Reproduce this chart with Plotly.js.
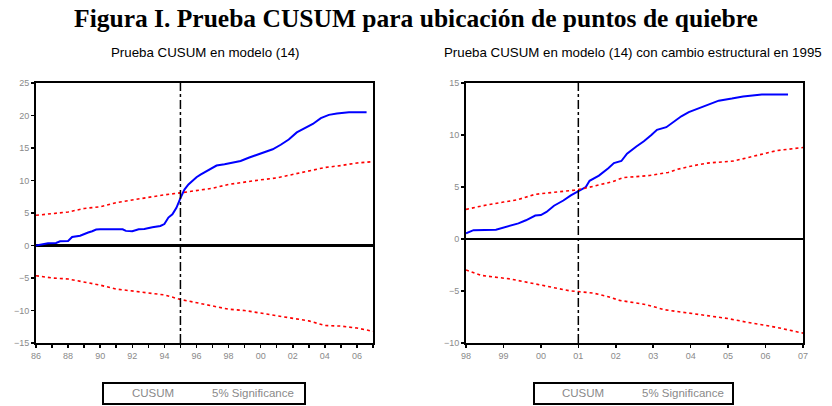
<!DOCTYPE html>
<html>
<head>
<meta charset="utf-8">
<script src="https://cdn.plot.ly/plotly-3.0.1.min.js"></script>
<style>html,body{margin:0;padding:0;background:#fff;}#chart{width:832px;height:406px;}</style>
</head>
<body>
<div id="chart"></div>
<script>
// ---- Left panel: CUSUM en modelo (14), 1986-2007 ----
const leftCusumX = [1986.0,1986.5,1986.75,1987.25,1987.5,1988.0,1988.25,1988.75,1989.0,1989.25,1989.5,1989.75,1990.0,1990.5,1991.0,1991.4,1991.6,1992.0,1992.4,1992.75,1993.25,1993.75,1994.0,1994.25,1994.5,1994.75,1995.0,1995.25,1995.5,1995.75,1996.0,1996.25,1996.75,1997.25,1997.75,1998.25,1998.75,1999.25,1999.75,2000.25,2000.75,2001.25,2001.75,2002.25,2002.75,2003.25,2003.75,2004.25,2004.75,2005.5,2006.6];
const leftCusumY = [0,0.2,0.35,0.4,0.65,0.7,1.3,1.5,1.8,2.0,2.2,2.45,2.5,2.5,2.5,2.5,2.25,2.2,2.5,2.55,2.8,3.0,3.3,4.3,4.8,5.8,7.3,8.6,9.4,10.0,10.5,10.9,11.6,12.3,12.5,12.8,13.0,13.5,13.9,14.3,14.8,15.5,16.3,17.4,18.0,18.7,19.6,20.1,20.3,20.5,20.5];
const leftBandX = [1986,1987,1988,1989,1990,1991,1992,1993,1994,1995,1996,1997,1998,1999,2000,2001,2002,2003,2004,2005,2006,2007];
const leftUpper = [4.65,4.9,5.15,5.7,5.95,6.6,7.0,7.5,7.8,8.1,8.5,8.8,9.4,9.8,10.1,10.4,10.9,11.4,12.0,12.3,12.7,12.9];
const leftLower = [-4.65,-5.0,-5.15,-5.6,-6.1,-6.7,-7.0,-7.3,-7.6,-8.3,-8.8,-9.2,-9.8,-10.0,-10.4,-10.8,-11.1,-11.6,-12.3,-12.4,-12.7,-13.2];
const leftBreak = 1995;
const leftTickVals = [1986,1987,1988,1989,1990,1991,1992,1993,1994,1995,1996,1997,1998,1999,2000,2001,2002,2003,2004,2005,2006,2007];
const leftTickText = ['86','','88','','90','','92','','94','','96','','98','','00','','02','','04','','06',''];
const leftYTicks = [25,20,15,10,5,0,-5,-10,-15];

// ---- Right panel: con cambio estructural, 1998-2007 ----
const rightCusumX = [1998.0,1998.2,1998.8,1999.1,1999.4,1999.6,1999.85,2000.0,2000.15,2000.35,2000.6,2000.8,2001.05,2001.2,2001.3,2001.55,2001.8,2001.95,2002.15,2002.3,2002.55,2002.75,2002.95,2003.1,2003.35,2003.55,2003.75,2003.95,2004.25,2004.5,2004.75,2005.1,2005.4,2005.9,2006.6];
const rightCusumY = [0.55,0.85,0.9,1.2,1.5,1.8,2.25,2.3,2.6,3.2,3.7,4.2,4.7,5.0,5.6,6.1,6.8,7.3,7.5,8.2,8.9,9.4,10.0,10.5,10.75,11.3,11.8,12.2,12.6,12.9,13.3,13.5,13.7,13.9,13.9];
const rightUpperX = [1998,1998.45,1999,1999.35,1999.85,2000.5,2000.9,2001.2,2001.9,2002.2,2002.9,2003.4,2003.65,2004.0,2004.45,2005.15,2005.7,2006.3,2007];
const rightUpper = [2.85,3.2,3.55,3.75,4.3,4.55,4.7,4.9,5.5,5.9,6.1,6.4,6.7,7.0,7.3,7.5,8.0,8.5,8.8];
const rightLowerX = [1998,1998.4,1999.2,1999.8,2000.25,2000.75,2001.4,2001.8,2002.1,2002.8,2003.3,2004.2,2005.0,2005.5,2006.3,2007];
const rightLower = [-2.98,-3.5,-3.85,-4.3,-4.65,-4.97,-5.2,-5.55,-5.9,-6.3,-6.8,-7.25,-7.65,-8.0,-8.5,-9.05];
const rightBreak = 2001;
const rightTickVals = [1998,1999,2000,2001,2002,2003,2004,2005,2006,2007];
const rightTickText = ['98','99','00','01','02','03','04','05','06','07'];
const rightYTicks = [15,10,5,0,-5,-10];

const seriesNames = ['CUSUM','5% Significance'];
const mainTitle = 'Figura I. Prueba CUSUM para ubicación de puntos de quiebre';
const leftTitle = 'Prueba CUSUM en modelo (14)';
const rightTitle = 'Prueba CUSUM en modelo (14) con cambio estructural en 1995';

const BLUE = '#0000ff', RED = '#ff0000';
const cusumLine = {color: BLUE, width: 2};
const bandLine = {color: RED, width: 1.6, dash: '3px,3px'};

const traces = [
  {x: leftCusumX, y: leftCusumY, type: 'scatter', mode: 'lines', name: seriesNames[0], line: cusumLine, xaxis: 'x', yaxis: 'y'},
  {x: leftBandX, y: leftUpper, type: 'scatter', mode: 'lines', name: seriesNames[1], line: bandLine, xaxis: 'x', yaxis: 'y'},
  {x: leftBandX, y: leftLower, type: 'scatter', mode: 'lines', name: seriesNames[1], line: bandLine, xaxis: 'x', yaxis: 'y'},
  {x: rightCusumX, y: rightCusumY, type: 'scatter', mode: 'lines', name: seriesNames[0], line: cusumLine, xaxis: 'x2', yaxis: 'y2'},
  {x: rightUpperX, y: rightUpper, type: 'scatter', mode: 'lines', name: seriesNames[1], line: bandLine, xaxis: 'x2', yaxis: 'y2'},
  {x: rightLowerX, y: rightLower, type: 'scatter', mode: 'lines', name: seriesNames[1], line: bandLine, xaxis: 'x2', yaxis: 'y2'}
];

const tickFont = {family: 'Arial, Liberation Sans, sans-serif', size: 9, color: '#8a8a8a'};
function xAxis(domain, anchor, range, vals, text) {
  return {domain: domain, anchor: anchor, range: range, tickvals: vals, ticktext: text,
    showline: true, linecolor: '#000', linewidth: 2, mirror: true, ticks: 'outside', ticklen: 3, tickwidth: 1.5, tickcolor: '#000',
    showgrid: false, zeroline: false, tickfont: tickFont, fixedrange: true};
}
function yAxis(domain, anchor, range, vals, zw) {
  return {domain: domain, anchor: anchor, range: range, tickvals: vals,
    showline: true, linecolor: '#000', linewidth: 2, mirror: true, ticks: 'outside', ticklen: 3, tickwidth: 1.5, tickcolor: '#000',
    showgrid: false, zeroline: true, zerolinecolor: '#000', zerolinewidth: zw, tickfont: tickFont, fixedrange: true};
}
const yDom = [63/406, 323/406];
const legFont = {family: 'Arial, Liberation Sans, sans-serif', size: 11.5, color: '#8a8a8a'};
function px(x) { return x / 832; }
function py(y) { return 1 - y / 406; }
function legendBox(x0, x1) {
  return {type: 'rect', xref: 'paper', yref: 'paper', x0: px(x0), x1: px(x1), y0: py(404), y1: py(383),
    line: {color: '#000', width: 2}, fillcolor: '#fff', layer: 'below'};
}
function legText(t, x) {
  return {text: t, xref: 'paper', yref: 'paper', x: px(x), y: py(392.5), xanchor: 'center', yanchor: 'middle', showarrow: false, font: legFont};
}

const subFont = {family: 'Arial, Liberation Sans, sans-serif', size: 13.3, color: '#000'};
const layout = {
  width: 832, height: 406, margin: {l: 0, r: 0, t: 0, b: 0}, paper_bgcolor: '#fff', plot_bgcolor: '#fff', showlegend: false,
  title: {text: '<b>' + mainTitle + '</b>', x: 0.5, xanchor: 'center', y: py(18), yanchor: 'middle',
    font: {family: 'Liberation Serif, Times New Roman, serif', size: 25.5, color: '#000'}},
  xaxis: xAxis([px(36), px(373)], 'y', [1986, 2007], leftTickVals, leftTickText),
  yaxis: yAxis(yDom, 'x', [-15, 25], leftYTicks, 3),
  xaxis2: xAxis([px(466), px(803)], 'y2', [1998, 2007], rightTickVals, rightTickText),
  yaxis2: yAxis(yDom, 'x2', [-10, 15], rightYTicks, 2),
  shapes: [
    {type: 'line', xref: 'x', yref: 'y domain', x0: leftBreak, x1: leftBreak, y0: 0, y1: 1, line: {color: '#000', width: 1.5, dash: 'dashdot'}},
    {type: 'line', xref: 'x2', yref: 'y2 domain', x0: rightBreak, x1: rightBreak, y0: 0, y1: 1, line: {color: '#000', width: 1.5, dash: 'dashdot'}},
    legendBox(103, 305),
    legendBox(534, 733)
  ],
  annotations: [
    {text: leftTitle, xref: 'paper', yref: 'paper', x: px(205), y: py(52), xanchor: 'center', yanchor: 'middle', showarrow: false, font: subFont},
    {text: rightTitle, xref: 'paper', yref: 'paper', x: px(442), y: py(52), xanchor: 'left', yanchor: 'middle', showarrow: false, font: subFont},
    legText(seriesNames[0], 153), legText(seriesNames[1], 253),
    legText(seriesNames[0], 583), legText(seriesNames[1], 683)
  ]
};

Plotly.newPlot('chart', traces, layout, {displayModeBar: false, staticPlot: true});
</script>
</body>
</html>
